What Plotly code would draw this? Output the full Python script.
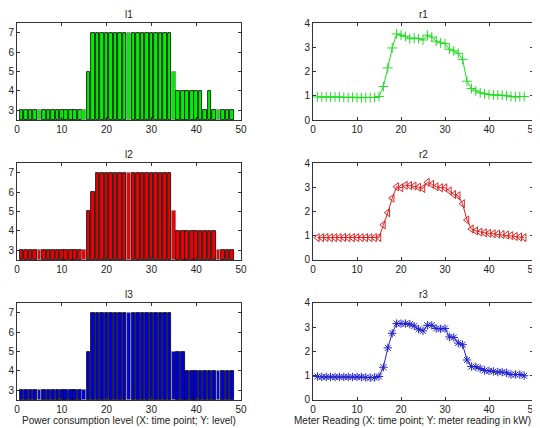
import plotly.graph_objects as go

t = list(range(1, 49))

# Power consumption levels
l1 = [3]*15 + [5] + [7]*18 + [5] + [4]*6 + [3, 4] + [3]*5
l2 = [3]*15 + [5, 6] + [7]*17 + [5] + [4]*9 + [3]*4
l3 = [3]*15 + [5] + [7]*18 + [5]*3 + [4]*11

# Meter readings (kW)
r1 = [0.95, 0.95, 0.95, 0.95, 0.95, 0.95, 0.93, 0.93, 0.94, 0.92, 0.92, 0.93, 0.93, 0.93, 0.97,
      1.38, 2.15, 2.97, 3.55, 3.50, 3.45, 3.35, 3.38, 3.35, 3.30, 3.50, 3.42, 3.25, 3.18, 3.15,
      2.92, 2.85, 2.75, 2.50, 1.60, 1.30, 1.20, 1.12, 1.08, 1.05, 1.03, 1.03, 1.02, 1.00, 0.97,
      0.95, 0.97, 0.97]
r2 = [0.92, 0.92, 0.93, 0.92, 0.92, 0.92, 0.93, 0.92, 0.92, 0.92, 0.92, 0.92, 0.92, 0.92, 0.93,
      1.45, 1.95, 2.55, 3.02, 2.98, 3.08, 3.07, 3.05, 3.00, 2.95, 3.20, 3.12, 3.02, 2.98, 2.98,
      2.85, 2.70, 2.65, 2.32, 1.65, 1.28, 1.20, 1.15, 1.12, 1.10, 1.08, 1.07, 1.05, 1.03, 1.00,
      0.97, 0.95, 0.92]
r3 = [0.97, 0.95, 0.95, 0.95, 0.95, 0.95, 0.95, 0.95, 0.95, 0.95, 0.95, 0.93, 0.92, 0.93, 0.97,
      1.35, 2.15, 2.75, 3.15, 3.15, 3.15, 3.13, 3.05, 2.92, 2.85, 3.08, 3.08, 2.95, 2.93, 2.95,
      2.60, 2.58, 2.35, 2.28, 1.65, 1.38, 1.37, 1.30, 1.22, 1.20, 1.18, 1.15, 1.15, 1.12, 1.05,
      1.05, 1.05, 1.00]

titles_left = ["l1", "l2", "l3"]
titles_right = ["r1", "r2", "r3"]
colors = ["#00ee00", "#ee0000", "#0000dd"]
line_colors = ["#22dd22", "#dd2222", "#2222cc"]
symbols = ["cross-thin-open", "triangle-left-open", "asterisk-open"]
xlabel_left = "Power consumption level (X: time point; Y: level)"
xlabel_right = "Meter Reading (X: time point; Y: meter reading in kW)"

FONT = "Liberation Sans, Arial, sans-serif"

fig = go.Figure()

# page has an 8px body margin; figure is 532x420 so plot area spans page x 17..533, y 23..400
W_PLOT = 516.0
ydoms = [(0.7427, 1.0), (0.3714, 0.6286), (0.0, 0.2573)]
xdom_l = (0.0, 224 / W_PLOT)
xdom_r = (296 / W_PLOT, 1.0)

edge = ["#888888" if x % 10 == 5 else "#000000" for x in t]

bars = [l1, l2, l3]
lines = [r1, r2, r3]

axis_style = dict(showline=True, linecolor="#333333", linewidth=1, mirror="ticks",
                  ticks="inside", ticklen=3, tickcolor="#333333", showgrid=False,
                  zeroline=False, automargin=False,
                  tickfont=dict(size=10, family=FONT, color="#222222"))

for i in range(3):
    xa_l = f"x{2*i+1}"
    ya_l = f"y{2*i+1}"
    xa_r = f"x{2*i+2}"
    ya_r = f"y{2*i+2}"
    fig.add_trace(go.Bar(x=t, y=[v - 2.5 for v in bars[i]], base=2.5, width=0.8,
                         marker=dict(color=colors[i], line=dict(color=edge, width=0.8)),
                         xaxis=xa_l, yaxis=ya_l, showlegend=False))
    fig.add_trace(go.Scatter(x=t, y=lines[i], mode="lines+markers",
                             line=dict(color=line_colors[i], width=1),
                             marker=dict(symbol=symbols[i], size=7,
                                         line=dict(color=line_colors[i], width=1),
                                         color=line_colors[i]),
                             xaxis=xa_r, yaxis=ya_r, showlegend=False))
    k1 = "" if i == 0 else str(2*i+1)
    k2 = str(2*i+2)
    fig.layout[f"xaxis{k1}"] = dict(domain=xdom_l, anchor=ya_l, range=[0, 50],
                                    tickvals=[0, 10, 20, 30, 40, 50], **axis_style)
    fig.layout[f"yaxis{k1}"] = dict(domain=ydoms[i], anchor=xa_l, range=[2.5, 7.5],
                                    tickvals=[3, 4, 5, 6, 7], **axis_style)
    fig.layout[f"xaxis{k2}"] = dict(domain=xdom_r, anchor=ya_r, range=[0, 50],
                                    tickvals=[0, 10, 20, 30, 40, 50], **axis_style)
    fig.layout[f"yaxis{k2}"] = dict(domain=ydoms[i], anchor=xa_r, range=[0, 4],
                                    tickvals=[0, 1, 2, 3, 4], **axis_style)

annotations = []
for i in range(3):
    ytop = ydoms[i][1]
    annotations.append(dict(text=titles_left[i], x=sum(xdom_l)/2, y=ytop, xref="paper", yref="paper",
                            xanchor="center", yanchor="bottom", yshift=1, showarrow=False,
                            font=dict(size=10, family=FONT, color="#222222")))
    annotations.append(dict(text=titles_right[i], x=sum(xdom_r)/2, y=ytop, xref="paper", yref="paper",
                            xanchor="center", yanchor="bottom", yshift=1, showarrow=False,
                            font=dict(size=10, family=FONT, color="#222222")))
annotations.append(dict(text=xlabel_left, x=sum(xdom_l)/2, y=0, xref="paper", yref="paper",
                        xanchor="center", yanchor="top", yshift=-14, borderpad=0, showarrow=False,
                        font=dict(size=10, family=FONT, color="#222222")))
annotations.append(dict(text=xlabel_right, x=1.0, y=0, xref="paper", yref="paper",
                        xanchor="right", yanchor="top", yshift=-14, xshift=-1, borderpad=0,
                        showarrow=False, font=dict(size=10, family=FONT, color="#222222")))

fig.update_layout(width=532, height=420, margin=dict(l=9, r=7, t=15, b=28, autoexpand=False),
                  paper_bgcolor="white", plot_bgcolor="white", annotations=annotations,
                  bargap=0)

fig.write_html("out.html")
